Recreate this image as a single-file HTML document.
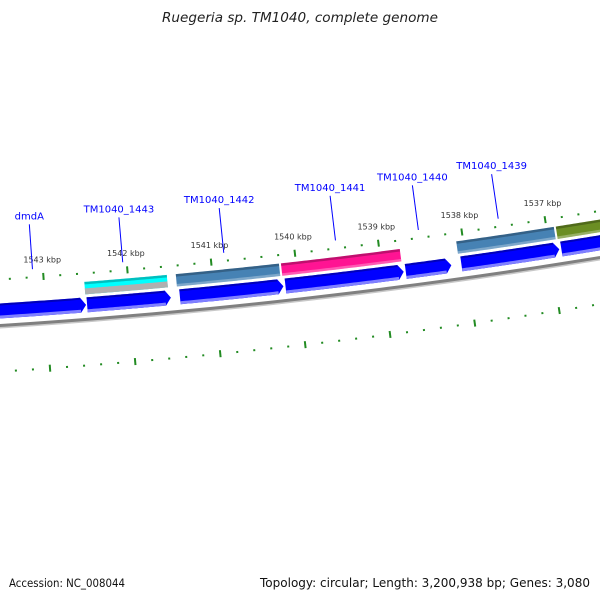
<!DOCTYPE html>
<html><head><meta charset="utf-8"><style>
html,body{margin:0;padding:0;background:#fff;}
svg{display:block;font-family:"DejaVu Sans","Liberation Sans",sans-serif;}
</style></head><body>
<svg id="map" width="600" height="600" viewBox="0 0 600 600" xmlns="http://www.w3.org/2000/svg">
<rect width="600" height="600" fill="#fff"/>
<text x="162" y="22" font-size="13" font-style="italic" fill="#222" textLength="276" lengthAdjust="spacingAndGlyphs">Ruegeria sp. TM1040, complete genome</text>
<text x="9" y="587" font-size="11.5" fill="#111" textLength="116" lengthAdjust="spacingAndGlyphs">Accession: NC_008044</text>
<text x="260" y="587" font-size="12" fill="#111" textLength="330" lengthAdjust="spacingAndGlyphs">Topology: circular; Length: 3,200,938 bp; Genes: 3,080</text>
<g id="layer"></g>
</svg>
<script>
// data (bp coordinates)
const arrowStarts = [1545000, 1542509, 1541408, 1540154, 1538722, 1538059, 1536864];
const arrowEnds   = [1542521, 1541515, 1540178, 1538746, 1538178, 1536888, 1535200];
const barStarts = [1542521, 1541432, 1540178, 1538082, 1536888];
const barEnds   = [1541539, 1540202, 1538758, 1536912, 1535200];
const barColors = ['#00ffff', '#4682b4', '#ff1493', '#4682b4', '#6b8e23'];
const geneNames = ['dmdA', 'TM1040_1443', 'TM1040_1442', 'TM1040_1441', 'TM1040_1440', 'TM1040_1439'];
const genePos   = [1543124, 1542047, 1540840, 1539503, 1538509, 1537550];
const tickLabels = ['1543 kbp', '1542 kbp', '1541 kbp', '1540 kbp', '1539 kbp', '1538 kbp', '1537 kbp'];
const tickPos = [1543000, 1542000, 1541000, 1540000, 1539000, 1538000, 1537000];
const tickMin = 1533000, tickMax = 1546000, minorStep = 200;

// geometry
const CX = -392, CY = -5813, R = 6150;
function ang(bp){ return (83.54 + (bp - 1540000) * 0.00079) * Math.PI / 180; }
function pt(bp, off){ const a = ang(bp), r = R - off; return [CX + r * Math.cos(a), CY + r * Math.sin(a)]; }
function arcPts(b1, b2, off){ const out = []; const n = 40; for (let i = 0; i <= n; i++){ out.push(pt(b1 + (b2 - b1) * i / n, off)); } return out; }
function band(b1, b2, o1, o2){ const a = arcPts(b1, b2, o1), b = arcPts(b2, b1, o2); return a.concat(b).map(p => p[0].toFixed(2) + ',' + p[1].toFixed(2)).join(' '); }
const NS = 'http://www.w3.org/2000/svg';
const layer = document.getElementById('layer');
function mk(tag, attrs){ const e = document.createElementNS(NS, tag); for (const k in attrs) e.setAttribute(k, attrs[k]); layer.appendChild(e); return e; }

// backbone
let bb = mk('polyline', {points: arcPts(1547000, 1533000, -3).map(p => p.join(',')).join(' '), fill: 'none', stroke: '#c8c8c8', 'stroke-width': 2});


let bb2 = mk('polyline', {points: arcPts(1547000, 1533000, -1).map(p => p.join(',')).join(' '), fill: 'none', stroke: '#808080', 'stroke-width': 3});



// ticks
for (let bp = tickMin; bp <= tickMax; bp += minorStep){
  const major = bp % 1000 === 0;
  const len = major ? 7 : 2;
  [[45, 'outer'], [-47, 'inner']].forEach(([off, side]) => {
    const p1 = pt(bp, off - len / 2), p2 = pt(bp, off + len / 2);
    const t = mk('line', {x1: p1[0], y1: p1[1], x2: p2[0], y2: p2[1], stroke: '#228b22', 'stroke-width': 2});
    
    
  });
}
tickPos.forEach((bp, i) => {
  const p = pt(bp, 62);
  const t = mk('text', {x: p[0], y: p[1] + 3, 'text-anchor': 'middle', 'font-size': 8, fill: '#333'});
  t.textContent = tickLabels[i];
  
  
});

// COG bars
barStarts.forEach((b1, i) => {
  const b2 = barEnds[i], c = barColors[i];
  const g = mk('polygon', {points: band(b1, b2, 24, 36.5), fill: c});
  
  
  const top = mk('polygon', {points: band(b1, b2, 34, 36.5), fill: '#000', opacity: 0.25});
  
  
  if (c === '#00ffff'){
    const gr = mk('polygon', {points: band(b1, b2, 24, 30), fill: '#b0b0b0'});
    
    
  } else {
    const lo = mk('polygon', {points: band(b1, b2, 24, 26.5), fill: '#fff', opacity: 0.3});
    
    
  }
});

// gene arrows (pointing toward lower bp)
arrowStarts.forEach((b1, i) => {
  const b2 = arrowEnds[i], head = 65;
  const body = arcPts(b1, b2 + head, 21).concat([pt(b2, 13.5)]).concat(arcPts(b2 + head, b1, 6));
  const a = mk('polygon', {points: body.map(p => p[0].toFixed(2) + ',' + p[1].toFixed(2)).join(' '), fill: '#0000ff'});
  
  
  const s1 = mk('polygon', {points: band(b1, b2 + head, 19, 21), fill: '#00008b', opacity: 0.6});
  
  
  const s2 = mk('polygon', {points: band(b1, b2 + head, 6, 9), fill: '#8080ff'});
  
  
});

// gene labels
geneNames.forEach((nm, i) => {
  const p1 = pt(genePos[i], 53), p2 = pt(genePos[i], 98);
  const l = mk('line', {x1: p1[0], y1: p1[1], x2: p2[0], y2: p2[1], stroke: '#0000ff', 'stroke-width': 1});
  
  
  const t = mk('text', {x: p2[0], y: p2[1] - 5, 'text-anchor': 'middle', 'font-size': 10, fill: '#0000ff'});
  t.textContent = nm;
  
  
});
</script>
</body></html>
